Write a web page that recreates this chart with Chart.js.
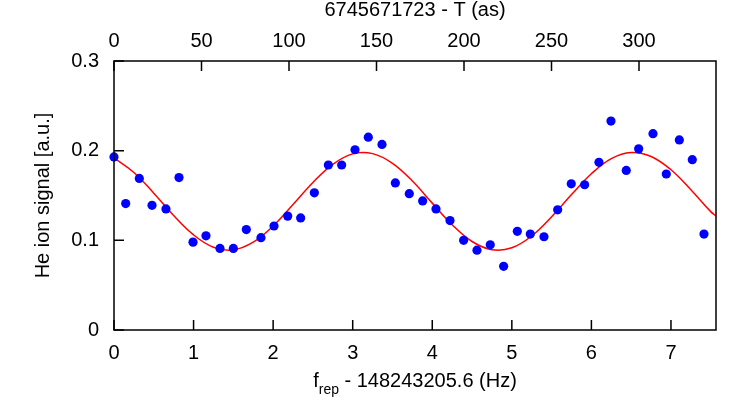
<!DOCTYPE html>
<html>
<head>
<meta charset="utf-8">
<script src="https://cdn.jsdelivr.net/npm/chart.js@4/dist/chart.umd.min.js"></script>
<style>
  html, body { margin: 0; padding: 0; background: #fff; }
  #wrap { width: 747px; height: 418px; }
</style>
</head>
<body>
<div id="wrap"><canvas id="c" width="747" height="418"></canvas></div>
<script>
// measured points: f_rep offset (Hz) and He ion signal (a.u.)
const freq = [0.000, 0.147, 0.318, 0.478, 0.653, 0.817, 0.993, 1.156, 1.332, 1.500,
  1.663, 1.847, 2.011, 2.183, 2.346, 2.518, 2.694, 2.861, 3.029, 3.196,
  3.368, 3.536, 3.711, 3.879, 4.047, 4.223, 4.394, 4.562, 4.729, 4.897,
  5.069, 5.232, 5.404, 5.576, 5.747, 5.915, 6.095, 6.246, 6.438, 6.594,
  6.774, 6.941, 7.105, 7.268, 7.415];
const signal = [0.193, 0.141, 0.169, 0.139, 0.135, 0.170, 0.098, 0.105, 0.091, 0.091,
  0.112, 0.103, 0.116, 0.127, 0.125, 0.153, 0.184, 0.184, 0.201, 0.215,
  0.207, 0.164, 0.152, 0.144, 0.135, 0.122, 0.100, 0.089, 0.095, 0.071,
  0.110, 0.107, 0.104, 0.134, 0.163, 0.162, 0.187, 0.233, 0.178, 0.202,
  0.219, 0.174, 0.212, 0.190, 0.107];

// fitted curve
const fitFreq = [0, 0.25, 0.5, 0.75, 1.0, 1.25, 1.5, 1.75, 2.0, 2.25, 2.5, 2.75, 3.0, 3.25,
  3.5, 3.75, 4.0, 4.25, 4.5, 4.75, 5.0, 5.25, 5.5, 5.75, 6.0, 6.25, 6.5, 6.75, 7.0, 7.25, 7.5, 7.566];
const fitSignal = [0.192, 0.1757, 0.1526, 0.1276, 0.106, 0.0923, 0.0894, 0.0979, 0.116, 0.1399,
  0.1646, 0.1848, 0.1964, 0.1967, 0.1859, 0.1661, 0.1415, 0.1174, 0.0987, 0.0896,
  0.0917, 0.1049, 0.1262, 0.151, 0.1743, 0.1912, 0.198, 0.1935, 0.1787, 0.1565, 0.132, 0.127];

// axis ranges
const xMax = 7.566;   // Hz
const tMax = 344;     // as
const yTickLabels = ['0', '0.1', '0.2', '0.3'];

const FONT = 'Liberation Sans, Arial, Helvetica, sans-serif';

// gnuplot-like frame + inward ticks + x title with subscript
const framePlugin = {
  id: 'frame',
  afterDraw(chart) {
    const { ctx, chartArea: a, scales } = chart;
    ctx.save();
    ctx.strokeStyle = '#000';
    ctx.lineWidth = 1.5;
    ctx.strokeRect(a.left, a.top, a.right - a.left, a.bottom - a.top);

    ctx.beginPath();
    const len = 10;
    scales.x.ticks.forEach((t, i) => {
      const px = scales.x.getPixelForTick(i);
      ctx.moveTo(px, a.bottom); ctx.lineTo(px, a.bottom - len);
    });
    scales.x2.ticks.forEach((t, i) => {
      const px = scales.x2.getPixelForTick(i);
      ctx.moveTo(px, a.top); ctx.lineTo(px, a.top + len);
    });
    scales.y.ticks.forEach((t, i) => {
      const py = scales.y.getPixelForTick(i);
      ctx.moveTo(a.left, py); ctx.lineTo(a.left + len, py);
    });
    ctx.stroke();

    // x title: f_rep - 148243205.6 (Hz)
    const big = '20px ' + FONT, small = '14px ' + FONT;
    const rest = ' - 148243205.6 (Hz)';
    ctx.font = big; const wf = ctx.measureText('f').width; const wr = ctx.measureText(rest).width;
    ctx.font = small; const ws = ctx.measureText('rep').width;
    const total = wf + ws + wr;
    let x = (a.left + a.right) / 2 - total / 2;
    const base = 387;
    ctx.fillStyle = '#000';
    ctx.textAlign = 'left';
    ctx.textBaseline = 'alphabetic';
    ctx.font = big; ctx.fillText('f', x, base); x += wf;
    ctx.font = small; ctx.fillText('rep', x, base + 7); x += ws;
    ctx.font = big; ctx.fillText(rest, x, base);
    ctx.restore();
  }
};

new Chart(document.getElementById('c'), {
  type: 'scatter',
  data: {
    datasets: [
      {
        label: 'data',
        data: freq.map((f, i) => ({ x: f, y: signal[i] })),
        backgroundColor: '#0000ff',
        borderColor: '#0000ff',
        pointRadius: 4.6,
        pointBorderWidth: 0,
        clip: false,
        order: 0
      },
      {
        type: 'line',
        label: 'fit',
        data: fitFreq.map((f, i) => ({ x: f, y: fitSignal[i] })),
        borderColor: '#ff0000',
        borderWidth: 1.5,
        pointRadius: 0,
        tension: 0.4,
        fill: false,
        order: 1
      }
    ]
  },
  options: {
    responsive: false,
    animation: false,
    layout: { padding: { left: 0, right: 31, top: 0, bottom: 0 } },
    plugins: { legend: { display: false }, tooltip: { enabled: false } },
    scales: {
      x: {
        type: 'linear', position: 'bottom', min: 0, max: xMax,
        grid: { display: false }, border: { display: false },
        ticks: { stepSize: 1, includeBounds: false, padding: 3, color: '#000',
          font: { family: FONT, size: 20 }, maxRotation: 0 },
        afterFit(s) { s.height = 88; }
      },
      x2: {
        type: 'linear', position: 'top', min: 0, max: tMax,
        grid: { display: false }, border: { display: false },
        ticks: { stepSize: 50, includeBounds: false, padding: 0, color: '#000',
          font: { family: FONT, size: 20 }, maxRotation: 0 },
        title: { display: true, text: '6745671723 - T (as)', color: '#000',
          font: { family: FONT, size: 20, lineHeight: 1.0 }, padding: { top: 0, bottom: 0 } },
        afterFit(s) { s.height = 61; }
      },
      y: {
        type: 'linear', position: 'left', min: 0, max: 0.3,
        grid: { display: false }, border: { display: false },
        ticks: { stepSize: 0.1, includeBounds: false, padding: 7, color: '#000',
          font: { family: FONT, size: 20 },
          callback: (v, i) => yTickLabels[i] },
        title: { display: true, text: 'He ion signal [a.u.]', color: '#000',
          font: { family: FONT, size: 20 }, padding: { top: 31, bottom: 0 } },
        afterFit(s) { s.width = 114; }
      }
    }
  },
  plugins: [framePlugin]
});
</script>
</body>
</html>
